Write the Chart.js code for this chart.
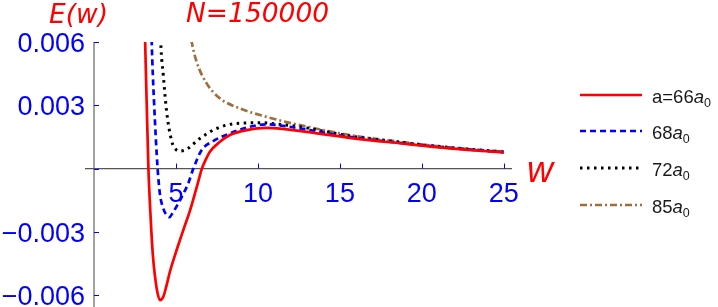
<!DOCTYPE html>
<html>
<head>
<meta charset="utf-8">
<script src="https://cdn.jsdelivr.net/npm/chart.js@4.4.1/dist/chart.umd.min.js"></script>
<style>
  html, body { margin: 0; padding: 0; background: #fff; }
  #wrap { position: relative; width: 718px; height: 307px; }
</style>
</head>
<body>
<div id="wrap"><canvas id="chart1" width="718" height="307"></canvas></div>
<script>
// values
let wRed = [3.05, 3.12, 3.21, 3.32, 3.4, 3.5, 3.6, 3.72, 3.85, 4.02, 4.23, 4.43, 4.63, 4.94, 5.24, 5.55, 5.85, 6.15, 6.4, 6.58, 6.8, 7.07, 7.68, 8.29, 9.31, 10.5, 11.5, 13.6, 15.6, 18.66, 21.7, 25];
let eRed = [0.0085, 0.006, 0.0032, 0, -0.0015, -0.003, -0.0042, -0.0051, -0.0058, -0.00623, -0.00607, -0.00552, -0.00489, -0.0041, -0.00339, -0.00268, -0.002, -0.0012, -0.0005, 0, 0.0004, 0.0008, 0.00127, 0.00159, 0.00182, 0.00193, 0.00188, 0.00167, 0.00146, 0.0012, 0.00096, 0.00077];

let wBlue = [3.45, 3.52, 3.66, 3.88, 4.02, 4.23, 4.42, 4.6, 4.8, 5.14, 5.45, 5.75, 6.06, 6.57, 7.27, 8.29, 9.51, 10.5, 11.5, 13.6, 15.6, 18.66, 21.7, 25];
let eBlue = [0.0085, 0.006, 0.0032, 0, -0.0012, -0.0019, -0.0022, -0.0023, -0.0021, -0.00165, -0.0012, -0.0007, 0, 0.00088, 0.0013, 0.00167, 0.00198, 0.0021, 0.00203, 0.00176, 0.0015, 0.00122, 0.00098, 0.00078];

let wBlack = [3.98, 4.07, 4.23, 4.43, 4.74, 5.0, 5.24, 5.5, 5.75, 6.46, 7.48, 8.7, 10.3, 11.5, 12.56, 15.6, 18.66, 21.7, 25];
let eBlack = [0.0085, 0.006, 0.0044, 0.0027, 0.0013, 0.0009, 0.00083, 0.00086, 0.00096, 0.00143, 0.0019, 0.00214, 0.00217, 0.00208, 0.00198, 0.00155, 0.00125, 0.001, 0.00079];

let wBrown = [5.8, 5.96, 6.26, 6.87, 7.68, 8.9, 10.53, 12.56, 15.6, 18.66, 21.7, 25];
let eBrown = [0.0068, 0.006, 0.00506, 0.00404, 0.00333, 0.00285, 0.00245, 0.00206, 0.00159, 0.00127, 0.001, 0.0008];

let xTicks = [5, 10, 15, 20, 25];
let yTicks = [0.006, 0.003, 0, -0.003, -0.006];
let yTickLabels = ["0.006", "0.003", "", "\u22120.003", "\u22120.006"];

let legendMain = ["a=66", "68", "72", "85"];

function pts(xs, ys) {
  let out = [];
  for (let i = 0; i < xs.length; i++) out.push({x: xs[i], y: ys[i]});
  return out;
}

// axes crossing at the origin, inward ticks, titles and legend
const axesPlugin = {
  id: 'axesPlugin',
  beforeDatasetsDraw(chart) {
    const ctx = chart.ctx;
    const xs = chart.scales.x, ys = chart.scales.y;
    const x0 = xs.getPixelForValue(0), y0 = ys.getPixelForValue(0);
    const area = chart.chartArea;
    ctx.save();
    // y axis
    ctx.strokeStyle = '#8a8a8a';
    ctx.lineWidth = 1.6;
    ctx.beginPath();
    ctx.moveTo(x0, ys.getPixelForValue(0.006));
    ctx.lineTo(x0, area.bottom);
    ctx.stroke();
    // x axis
    ctx.strokeStyle = '#555';
    ctx.lineWidth = 1.3;
    ctx.beginPath();
    ctx.moveTo(area.left, y0);
    ctx.lineTo(area.right, y0);
    ctx.stroke();
    // ticks
    ctx.strokeStyle = '#0000ff';
    ctx.lineWidth = 1;
    xTicks.forEach(v => {
      const px = Math.round(xs.getPixelForValue(v)) + 0.5;
      ctx.beginPath();
      ctx.moveTo(px, y0);
      ctx.lineTo(px, y0 - 5);
      ctx.stroke();
    });
    yTicks.forEach(v => {
      const py = Math.round(ys.getPixelForValue(v)) + 0.5;
      ctx.beginPath();
      ctx.moveTo(x0, py);
      ctx.lineTo(x0 + 5, py);
      ctx.stroke();
    });
    ctx.restore();
  },
  afterDraw(chart) {
    const ctx = chart.ctx;
    const xs = chart.scales.x, ys = chart.scales.y;
    const x0 = xs.getPixelForValue(0), y0 = ys.getPixelForValue(0);
    ctx.save();
    ctx.fillStyle = '#0000ff';
    ctx.font = '27px "Liberation Sans", Arial, sans-serif';
    ctx.textBaseline = 'alphabetic';
    ctx.textAlign = 'center';
    xTicks.forEach(v => {
      ctx.fillText(String(v), xs.getPixelForValue(v), y0 + 33);
    });
    ctx.textAlign = 'right';
    yTicks.forEach((v, i) => {
      if (yTickLabels[i]) ctx.fillText(yTickLabels[i], x0 - 9, ys.getPixelForValue(v) + 10);
    });

    // titles
    ctx.fillStyle = '#ff0000';
    ctx.textAlign = 'left';
    ctx.font = 'oblique 26.5px "DejaVu Sans", sans-serif';
    ctx.fillText('E(w)', 49, 23);
    ctx.fillText('N=150000', 186, 22);
    ctx.font = 'italic 36px "Liberation Sans", Arial, sans-serif';
    ctx.fillText('w', 527, 182);

    // legend
    const rowY = [95, 131, 168, 205];
    chart.data.datasets.forEach((ds, i) => {
      const y = rowY[i];
      ctx.strokeStyle = ds.borderColor;
      ctx.lineWidth = ds.borderWidth;
      ctx.setLineDash(ds.borderDash || []);
      ctx.beginPath();
      ctx.moveTo(580, y);
      ctx.lineTo(642, y);
      ctx.stroke();
      ctx.setLineDash([]);
      ctx.fillStyle = '#1a1a1a';
      ctx.font = '18.5px "Liberation Sans", Arial, sans-serif';
      let tx = 652;
      ctx.fillText(legendMain[i], tx, y + 8);
      tx += ctx.measureText(legendMain[i]).width;
      ctx.font = 'italic 18.5px "Liberation Sans", Arial, sans-serif';
      ctx.fillText('a', tx, y + 8);
      tx += ctx.measureText('a').width;
      ctx.font = '12.5px "Liberation Sans", Arial, sans-serif';
      ctx.fillText('0', tx, y + 12);
    });
    ctx.restore();
  }
};

new Chart("chart1", {
  type: "scatter",
  data: {
    datasets: [{
      data: pts(wRed, eRed),
      showLine: true,
      borderColor: "rgb(255,0,0)",
      borderWidth: 2.7,
      pointRadius: 0,
      cubicInterpolationMode: 'monotone'
    }, {
      data: pts(wBlue, eBlue),
      showLine: true,
      borderColor: "rgb(0,0,255)",
      borderWidth: 2.7,
      borderDash: [6, 4],
      pointRadius: 0,
      cubicInterpolationMode: 'monotone'
    }, {
      data: pts(wBlack, eBlack),
      showLine: true,
      borderColor: "rgb(0,0,0)",
      borderWidth: 3,
      borderDash: [2.5, 4.5],
      pointRadius: 0,
      cubicInterpolationMode: 'monotone'
    }, {
      data: pts(wBrown, eBrown),
      showLine: true,
      borderColor: "rgb(160,110,60)",
      borderWidth: 2.7,
      borderDash: [7, 3, 2, 3],
      pointRadius: 0,
      cubicInterpolationMode: 'monotone'
    }]
  },
  options: {
    responsive: false,
    animation: false,
    layout: { padding: { left: 85, right: 206, top: 42, bottom: 0 } },
    scales: {
      x: { type: 'linear', min: -0.55, max: 25.5, display: false },
      y: { type: 'linear', min: -0.00656, max: 0.006, display: false }
    },
    plugins: {
      legend: { display: false },
      tooltip: { enabled: false }
    }
  },
  plugins: [axesPlugin]
});
</script>
</body>
</html>
